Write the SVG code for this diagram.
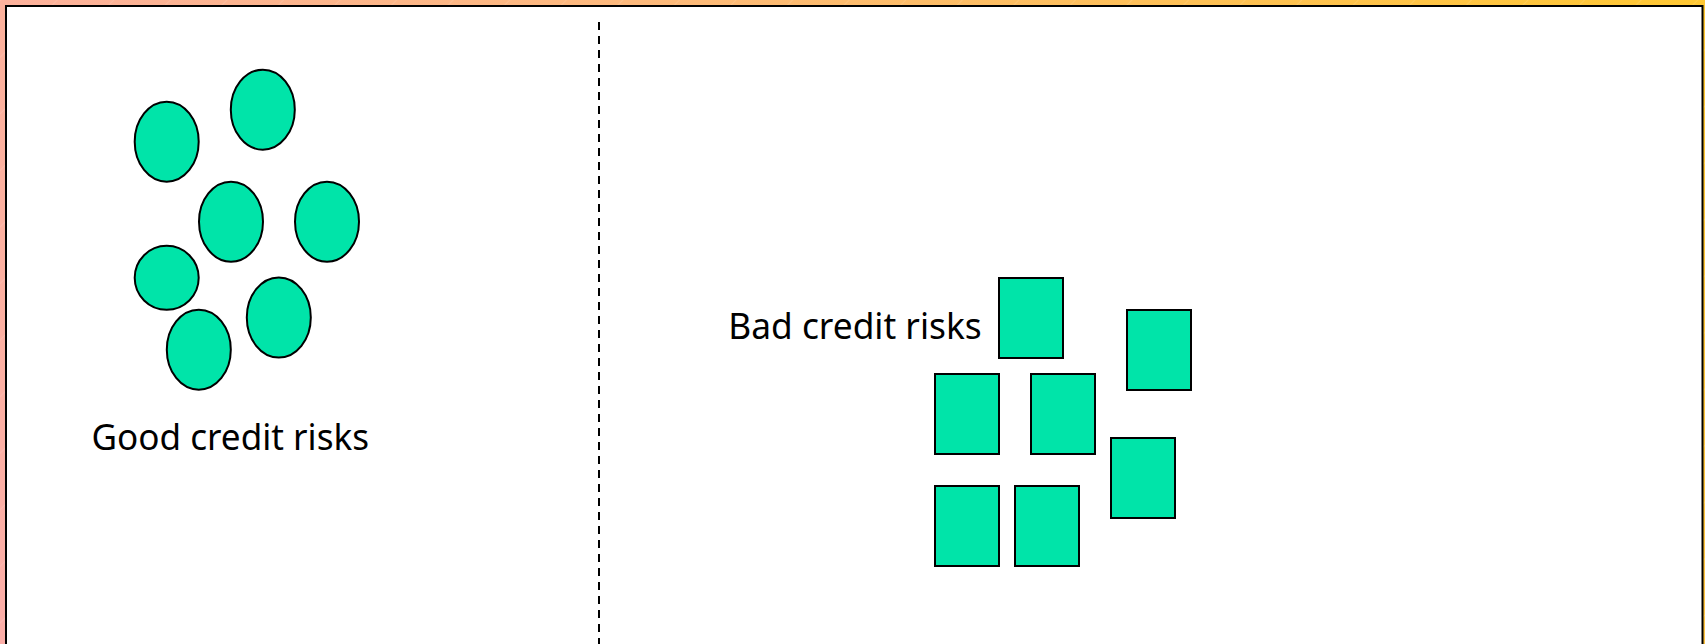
<svg xmlns="http://www.w3.org/2000/svg" width="1705" height="644" viewBox="0 0 1705 644">
  <defs>
    <linearGradient id="frameGrad" x1="0" y1="644" x2="1705" y2="0" gradientUnits="userSpaceOnUse">
      <stop offset="0" stop-color="#fcaea8"/>
      <stop offset="0.45" stop-color="#fdb97c"/>
      <stop offset="1" stop-color="#ffc833"/>
    </linearGradient>
    <pattern id="sheen" width="40" height="40" patternUnits="userSpaceOnUse" patternTransform="rotate(45)">
      <line x1="0" y1="0" x2="0" y2="40" stroke="#ffffff" stroke-opacity="0.25" stroke-width="1"/>
    </pattern>
    <style>
      .token { fill: #00e4a9; stroke: #000000; stroke-width: 2; }
      .label { font-family: "Noto Sans", "Open Sans", sans-serif; font-size: 36px; fill: #000000; }
      .divider { stroke: #000000; stroke-width: 2; stroke-dasharray: 8 6; fill: none; }
    </style>
  </defs>

  <!-- outer frame -->
  <rect x="0" y="0" width="1705" height="644" fill="url(#frameGrad)"/>
  <rect x="0" y="0" width="1705" height="644" fill="url(#sheen)"/>
  <rect x="6" y="6" width="1696.5" height="700" fill="#ffffff" stroke="#000000" stroke-width="2"/>

  <!-- connectors: dashed divider between the two groups -->
  <g id="connectors">
    <line class="divider" x1="599" y1="22" x2="599" y2="644"/>
  </g>

  <g id="good-risks">
    <ellipse class="token" cx="166.7" cy="141.7" rx="32" ry="40"/>
    <ellipse class="token" cx="262.8" cy="109.7" rx="32" ry="40"/>
    <ellipse class="token" cx="231" cy="221.7" rx="32" ry="40"/>
    <ellipse class="token" cx="327" cy="221.7" rx="32" ry="40"/>
    <ellipse class="token" cx="166.7" cy="277.8" rx="32" ry="32"/>
    <ellipse class="token" cx="198.8" cy="349.7" rx="32" ry="40"/>
    <ellipse class="token" cx="278.8" cy="317.5" rx="32" ry="40"/>
    <text class="label" x="91.5" y="449.5" textLength="277.5" lengthAdjust="spacingAndGlyphs">Good credit risks</text>
  </g>

  <g id="bad-risks">
    <rect class="token" x="999" y="278" width="64" height="80"/>
    <rect class="token" x="1127" y="310" width="64" height="80"/>
    <rect class="token" x="935" y="374" width="64" height="80"/>
    <rect class="token" x="1031" y="374" width="64" height="80"/>
    <rect class="token" x="1111" y="438" width="64" height="80"/>
    <rect class="token" x="935" y="486" width="64" height="80"/>
    <rect class="token" x="1015" y="486" width="64" height="80"/>
    <text class="label" x="728.3" y="339" textLength="253.4" lengthAdjust="spacingAndGlyphs">Bad credit risks</text>
  </g>
</svg>
